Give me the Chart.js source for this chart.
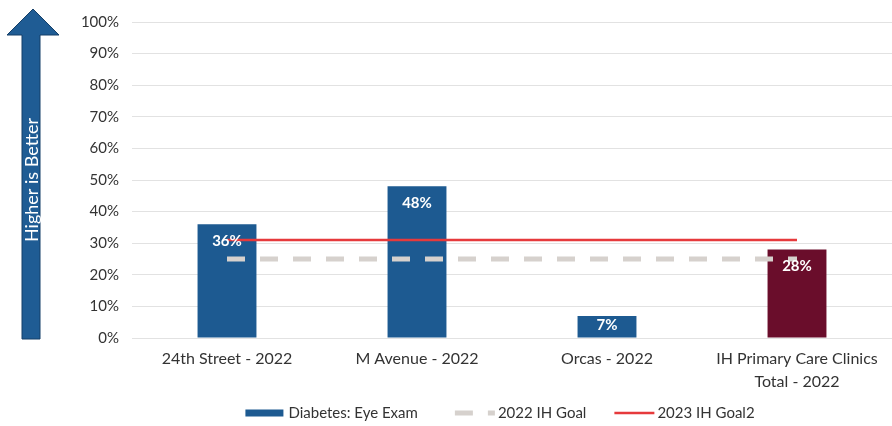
<!DOCTYPE html>
<html>
<head>
<meta charset="utf-8">
<script src="https://cdn.jsdelivr.net/npm/chart.js@4.4.1/dist/chart.umd.min.js"></script>
<style>
    html, body { margin: 0; padding: 0; background: #fff; }
    #wrap { width: 892px; height: 426px; }
</style>
</head>
<body>
<div id="wrap"><canvas id="chart"></canvas></div>
<script>
// ============================================================
// DADOS
// ============================================================

const categorias = [
    '24th Street - 2022',
    'M Avenue - 2022',
    'Orcas - 2022',
    ['IH Primary Care Clinics', 'Total - 2022']
];
const eyeExam = [36, 48, 7, 28];
const goal2022 = [25, 25, 25, 25];
const goal2023 = [31, 31, 31, 31];
const yTicks = [0, 10, 20, 30, 40, 50, 60, 70, 80, 90, 100];

const AZUL = '#1d5a91';
const VINHO = '#6a0d2b';
const FONTE = 'Lato, "Open Sans", sans-serif';

// ============================================================
// PLUGINS
// ============================================================

// seta "Higher is Better" a esquerda
const setaPlugin = {
    id: 'seta',
    beforeDraw(chart) {
        const ctx = chart.ctx;
        ctx.save();
        ctx.beginPath();
        ctx.moveTo(33, 9);
        ctx.lineTo(59, 35);
        ctx.lineTo(40, 35);
        ctx.lineTo(40, 339);
        ctx.lineTo(22, 339);
        ctx.lineTo(22, 35);
        ctx.lineTo(7, 35);
        ctx.closePath();
        ctx.fillStyle = '#1f5c94';
        ctx.fill();
        ctx.strokeStyle = '#153f68';
        ctx.lineWidth = 1;
        ctx.stroke();

        ctx.translate(32, 180);
        ctx.rotate(-Math.PI / 2);
        ctx.fillStyle = '#fff';
        ctx.font = '18px ' + FONTE;
        ctx.textAlign = 'center';
        ctx.textBaseline = 'middle';
        ctx.fillText('Higher is Better', 0, 0);
        ctx.restore();
    }
};

// rotulos dentro das barras
const rotulosPlugin = {
    id: 'rotulos',
    afterDatasetsDraw(chart) {
        const ctx = chart.ctx;
        const meta = chart.getDatasetMeta(0);
        ctx.save();
        ctx.fillStyle = '#fff';
        ctx.font = 'bold 15px ' + FONTE;
        ctx.textAlign = 'center';
        ctx.textBaseline = 'middle';
        meta.data.forEach((bar, i) => {
            const meio = (bar.y + bar.base) / 2;
            const y = Math.min(bar.y + 17, meio - 2);
            ctx.fillText(eyeExam[i] + '%', bar.x, y);
        });
        ctx.restore();
    }
};

// legenda desenhada a mao (espacamento do original)
const legendaPlugin = {
    id: 'legenda',
    afterDraw(chart) {
        const ctx = chart.ctx;
        const ds = chart.data.datasets;
        const yc = 413;
        const simb = 40, gapTexto = 3, gaps = [37, 28];
        ctx.save();
        ctx.font = '15px ' + FONTE;
        ctx.textBaseline = 'middle';
        const larguras = ds.map(d => simb + gapTexto + ctx.measureText(d.label).width);
        const total = larguras.reduce((a, b) => a + b, 0) + gaps[0] + gaps[1];
        let x = 500 - total / 2;
        ds.forEach((d, i) => {
            if (d.type === 'bar') {
                ctx.fillStyle = AZUL;
                ctx.fillRect(x, yc - 3.5, simb - 2, 7);
            } else {
                ctx.beginPath();
                ctx.setLineDash(d.borderDash || []);
                ctx.strokeStyle = d.borderColor;
                ctx.lineWidth = d.borderWidth;
                ctx.moveTo(x, yc);
                ctx.lineTo(x + simb, yc);
                ctx.stroke();
                ctx.setLineDash([]);
            }
            ctx.fillStyle = '#333';
            ctx.fillText(d.label, x + simb + gapTexto, yc);
            x += larguras[i] + (gaps[i] || 0);
        });
        ctx.restore();
    }
};

// ============================================================
// GRAFICO
// ============================================================

function init() {
    const ctx = document.getElementById('chart').getContext('2d');
    new Chart(ctx, {
        data: {
            labels: categorias,
            datasets: [
                {
                    type: 'bar',
                    label: 'Diabetes: Eye Exam',
                    data: eyeExam,
                    backgroundColor: [AZUL, AZUL, AZUL, VINHO],
                    categoryPercentage: 1,
                    barPercentage: 0.31,
                    order: 2
                },
                {
                    type: 'line',
                    label: '2022 IH Goal',
                    data: goal2022,
                    borderColor: '#d6d1cd',
                    borderWidth: 5,
                    borderDash: [18, 15],
                    pointRadius: 0,
                    order: 1
                },
                {
                    type: 'line',
                    label: '2023 IH Goal2',
                    data: goal2023,
                    borderColor: '#e63a3c',
                    borderWidth: 2.5,
                    pointRadius: 0,
                    order: 0
                }
            ]
        },
        options: {
            responsive: true,
            maintainAspectRatio: false,
            animation: false,
            layout: { padding: { left: 60, right: 0, top: 16, bottom: 32 } },
            plugins: {
                legend: { display: false },
                tooltip: { enabled: false }
            },
            scales: {
                x: {
                    grid: { display: false },
                    border: { display: false },
                    ticks: {
                        color: '#333',
                        font: { family: FONTE, size: 16, lineHeight: 1.4 },
                        padding: 2,
                        maxRotation: 0,
                        autoSkip: false
                    },
                    afterFit(scale) { scale.height = 56; }
                },
                y: {
                    min: 0,
                    max: 100,
                    afterBuildTicks(scale) { scale.ticks = yTicks.map(v => ({ value: v })); },
                    grid: { color: '#e2e2e2', drawTicks: false },
                    border: { display: false },
                    ticks: {
                        color: '#333',
                        font: { family: FONTE, size: 15 },
                        padding: 13,
                        callback: v => v + '%'
                    },
                    afterFit(scale) { scale.width = 72; }
                }
            }
        },
        plugins: [setaPlugin, rotulosPlugin, legendaPlugin]
    });
}

document.addEventListener('DOMContentLoaded', init);
</script>
</body>
</html>
